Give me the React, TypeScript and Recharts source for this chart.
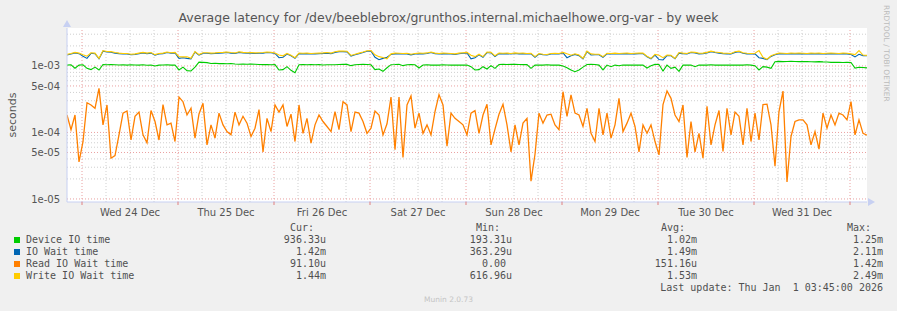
import { LineChart, Line, XAxis, YAxis, ReferenceLine } from 'recharts';

// hourly samples, starting Dec 23 20:15, values in microseconds
const deviceUs = [
  1030, 1040, 925, 1030, 1040, 920, 880, 960, 870, 1050, 1040, 1045, 1040, 1035, 1040, 1030, 1040, 1035, 1030, 1040, 1025, 1035, 1000, 1030, 1035, 1040, 1030, 1035, 870, 960, 850, 840, 960, 1140,
  1130, 1120, 1090, 1095, 1085, 1090, 1080, 1090, 1070, 1060, 1065, 1060, 1070, 1060, 1050, 1045, 1050, 1040, 1045, 870, 880, 975, 860, 790, 1040, 1045, 1040, 1050, 1040, 1045, 1035, 1040, 1040,
  1040, 1050, 1060, 1055, 1010, 1045, 1050, 1055, 1050, 1040, 880, 900, 830, 940, 1045, 1050, 1060, 1010, 1040, 1045, 1040, 930, 1035, 1040, 1030, 1035, 1030, 1040, 1035, 1030, 1035, 1030, 1030,
  1030, 975, 870, 880, 975, 900, 1010, 920, 1050, 1055, 1050, 1060, 1055, 1050, 1045, 1050, 920, 1030, 1035, 1030, 1040, 1030, 1035, 1030, 1000, 940, 870, 820, 870, 960, 1050, 1055, 1050,
  1030, 870, 1030, 975, 1030, 1005, 1035, 1030, 1035, 1030, 1035, 1030, 930, 1005, 1055, 1050, 840, 1030, 920, 960, 830, 1030, 1035, 1030, 975, 1030, 1035, 1030, 1040, 1030, 1035, 1030, 1035, 1030,
  1030, 1035, 1030, 1040, 1030, 1010, 870, 975, 960, 920, 1160, 1170, 1160, 1165, 1170, 1165, 1160, 1165, 1160, 1155, 1150, 1160, 1150, 1145, 1130, 1135, 1130, 1125, 1130, 1125, 930, 955, 950, 936,
];

const ioWaitUs = [
  1460, 1510, 1570, 1530, 1400, 1300, 1550, 1530, 1280, 1670, 1620, 1610, 1560, 1530, 1510, 1510, 1470, 1490, 1530, 1570, 1530, 1560, 1450, 1510, 1530, 1590, 1550, 1570, 1300, 1330, 1300, 1280, 1620, 1450,
  1550, 1550, 1530, 1540, 1560, 1570, 1590, 1560, 1540, 1600, 1570, 1550, 1560, 1540, 1550, 1560, 1590, 1580, 1540, 1330, 1350, 1510, 1420, 1300, 1530, 1520, 1530, 1510, 1520, 1530, 1540, 1560, 1530,
  1600, 1640, 1640, 1630, 1410, 1470, 1530, 1590, 1660, 1670, 1350, 1240, 1300, 1350, 1490, 1530, 1520, 1510, 1520, 1470, 1510, 1530, 1520, 1540, 1590, 1530, 1510, 1530, 1520, 1510, 1490, 1530, 1550,
  1570, 1280, 1330, 1470, 1350, 1590, 1570, 1390, 1530, 1520, 1530, 1510, 1540, 1520, 1530, 1510, 1520, 1350, 1510, 1470, 1460, 1510, 1520, 1510, 1570, 1330, 1420, 1490, 1430, 1280, 1640, 1460, 1470,
  1470, 1350, 1520, 1510, 1530, 1510, 1520, 1530, 1510, 1520, 1530, 1530, 1370, 1280, 1460, 1250, 1230, 1430, 1420, 1280, 1560, 1530, 1510, 1590, 1570, 1520, 1530, 1570, 1640, 1590, 1560, 1530, 1520, 1510,
  1600, 1640, 1550, 1520, 1510, 1520, 1330, 1300, 1240, 1390, 1470, 1530, 1520, 1510, 1530, 1520, 1530, 1520, 1510, 1530, 1520, 1530, 1510, 1520, 1530, 1520, 1510, 1530, 1520, 1490, 1370, 1500, 1430, 1420,
];

const readUs = [
  183, 110, 183, 36, 73, 280, 259, 231, 461, 130, 259, 41, 45, 92, 195, 210, 77, 175, 202, 92, 70, 214, 146, 77, 263, 130, 138, 73, 340, 290, 183, 231, 82, 190,
  275, 65, 130, 82, 195, 130, 103, 92, 202, 130, 175, 138, 87, 116, 220, 51, 163, 103, 259, 202, 259, 123, 188, 73, 259, 97, 163, 69, 130, 183, 146, 123, 103,
  206, 110, 290, 259, 103, 202, 195, 146, 97, 116, 210, 183, 92, 135, 340, 55, 340, 42, 259, 355, 116, 195, 97, 130, 92, 206, 370, 259, 62, 195, 163, 146, 130,
  92, 195, 213, 97, 183, 266, 65, 112, 188, 266, 130, 51, 130, 65, 138, 163, 18.5, 47, 195, 138, 183, 188, 130, 110, 410, 175, 366, 195, 183, 123, 231, 97, 73,
  231, 92, 195, 82, 130, 326, 103, 138, 195, 123, 51, 130, 97, 130, 73, 46, 263, 420, 326, 183, 146, 259, 42, 146, 51, 97, 41, 248, 65, 130, 214, 52, 231, 92,
  202, 175, 65, 231, 73, 195, 77, 263, 266, 130, 31, 206, 420, 18, 87, 146, 155, 155, 130, 65, 103, 56, 195, 116, 183, 130, 195, 183, 155, 290, 92, 155, 97, 91,
];

const writeUs = [
  1490, 1540, 1600, 1560, 1470, 1400, 1580, 1560, 1300, 1700, 1650, 1640, 1590, 1560, 1540, 1540, 1500, 1520, 1560, 1600, 1560, 1590, 1480, 1540, 1560, 1620, 1580, 1600, 1380, 1370, 1370, 1300, 1650, 1480,
  1580, 1580, 1560, 1570, 1590, 1600, 1620, 1590, 1570, 1630, 1600, 1580, 1590, 1570, 1580, 1590, 1620, 1610, 1570, 1460, 1420, 1540, 1450, 1330, 1560, 1550, 1560, 1540, 1550, 1560, 1570, 1590, 1560,
  1630, 1670, 1670, 1660, 1440, 1500, 1560, 1620, 1690, 1700, 1470, 1380, 1340, 1280, 1520, 1560, 1550, 1540, 1550, 1500, 1540, 1560, 1550, 1570, 1620, 1560, 1540, 1560, 1550, 1540, 1520, 1560, 1580,
  1600, 1450, 1380, 1500, 1380, 1620, 1600, 1420, 1560, 1550, 1560, 1540, 1570, 1550, 1560, 1540, 1550, 1380, 1540, 1500, 1490, 1540, 1550, 1540, 1600, 1520, 1450, 1520, 1460, 1300, 1670, 1520, 1500,
  1500, 1380, 1550, 1540, 1560, 1540, 1550, 1560, 1540, 1550, 1560, 1560, 1400, 1300, 1490, 1450, 1330, 1460, 1450, 1300, 1590, 1560, 1540, 1620, 1600, 1550, 1560, 1600, 1670, 1620, 1590, 1560, 1550, 1540,
  1630, 1670, 1580, 1550, 1540, 1550, 1700, 1350, 1260, 1420, 1500, 1560, 1550, 1540, 1560, 1550, 1560, 1550, 1540, 1560, 1550, 1560, 1540, 1550, 1560, 1550, 1540, 1560, 1550, 1520, 1480, 1700, 1460, 1440,
];

const startHour = -3.75; // hours relative to Wed 24 Dec 00:00

const seriesNames = ['Device IO time', 'IO Wait time', 'Read IO Wait time', 'Write IO Wait time'];
const seriesKeys = ['dev', 'iow', 'rd', 'wr'];
const seriesColors = ['#00cc00', '#0066b3', '#ff8000', '#ffcc00'];
const curValues = ['936.33u', '1.42m', '91.10u', '1.44m'];
const minValues = ['193.31u', '363.29u', '0.00 ', '616.96u'];
const avgValues = ['1.02m', '1.49m', '151.16u', '1.53m'];
const maxValues = ['1.25m', '2.11m', '1.42m', '2.49m'];

const dayLabels = ['Wed 24 Dec', 'Thu 25 Dec', 'Fri 26 Dec', 'Sat 27 Dec', 'Sun 28 Dec', 'Mon 29 Dec', 'Tue 30 Dec', 'Wed 31 Dec'];
const dayNoons = [12, 36, 60, 84, 108, 132, 156, 180];
const midnights = [0, 24, 48, 72, 96, 120, 144, 168, 192];
const sixHourMarks = [6, 12, 18, 30, 36, 42, 54, 60, 66, 78, 84, 90, 102, 108, 114, 126, 132, 138, 150, 156, 162, 174, 180, 186];

const yTicks = [1e-5, 5e-5, 1e-4, 5e-4, 1e-3];
const yTickLabels = ['1e-05', '5e-05', '1e-04', '5e-04', '1e-03'];
const yMinor = [2e-5, 3e-5, 4e-5, 6e-5, 7e-5, 8e-5, 9e-5, 2e-4, 3e-4, 4e-4, 6e-4, 7e-4, 8e-4, 9e-4, 2e-3, 3e-3];

const data = readUs.map((_, i) => ({
  t: startHour + i,
  dev: deviceUs[i] * 1e-6,
  iow: ioWaitUs[i] * 1e-6,
  rd: readUs[i] * 1e-6,
  wr: writeUs[i] * 1e-6,
}));

const SANS = '"DejaVu Sans", sans-serif';
const MONO = '"DejaVu Sans Mono", monospace';
const MINOR = '#cfcfcf';
const MAJOR = '#eaa0a0';

function DayTick(props: any) {
  const { x, y, payload } = props;
  const i = dayNoons.indexOf(payload.value);
  if (i >= 0) {
    return (
      <text x={x} y={y + 14} textAnchor="middle" fontSize={10} fill="#555" fontFamily={SANS}>
        {dayLabels[i]}
      </text>
    );
  }
  return <line x1={x} x2={x} y1={y} y2={y + 3} stroke="#e08080" />;
}

const textRow = (top: number): React.CSSProperties => ({
  position: 'absolute',
  top,
  lineHeight: '12px',
  fontSize: 10,
  fontFamily: MONO,
  color: '#505050',
  whiteSpace: 'pre',
});

export default function App() {
  return (
    <div style={{ position: 'absolute', left: 0, top: 0, width: 897, height: 311, background: '#f0f0f0', overflow: 'hidden' }}>
      <div style={{ position: 'absolute', top: 10, left: 0, width: 897, textAlign: 'center', fontFamily: SANS, fontSize: 12.5, color: '#555' }}>
        Average latency for /dev/beeblebrox/grunthos.internal.michaelhowe.org-var - by week
      </div>
      <div style={{ position: 'absolute', left: 5, top: 108, width: 14, height: 14 }}>
        <div style={{ position: 'absolute', left: 7, top: 7, transform: 'translate(-50%, -50%) rotate(-90deg)', fontFamily: SANS, fontSize: 11, color: '#555', whiteSpace: 'nowrap' }}>
          seconds
        </div>
      </div>
      <div style={{ position: 'absolute', left: 882, top: 5, writingMode: 'vertical-rl', fontFamily: SANS, fontSize: 7.5, color: '#bbb', whiteSpace: 'nowrap' }}>
        RRDTOOL / TOBI OETIKER
      </div>

      <div style={{ position: 'absolute', left: 0, top: 0 }}>
        <LineChart width={897} height={311} data={data} margin={{ top: 28, right: 30, bottom: 89, left: 0 }}>
          <rect x={67} y={28} width={800} height={174} fill="#ffffff" />
          {yMinor.map((v) => (
            <ReferenceLine key={'ym' + v} y={v} stroke={MINOR} strokeDasharray="1 2" />
          ))}
          {sixHourMarks.map((v) => (
            <ReferenceLine key={'xm' + v} x={v} stroke={MINOR} strokeDasharray="1 2" />
          ))}
          {yTicks.map((v) => (
            <ReferenceLine key={'yM' + v} y={v} stroke={MAJOR} strokeDasharray="1 2" />
          ))}
          {midnights.map((v) => (
            <ReferenceLine key={'xM' + v} x={v} stroke={MAJOR} strokeDasharray="1 2" />
          ))}
          <XAxis
            dataKey="t"
            type="number"
            domain={[startHour, startHour + 200]}
            ticks={[...midnights, ...dayNoons].sort((a, b) => a - b)}
            interval={0}
            tick={<DayTick />}
            tickLine={false}
            tickSize={0}
            tickMargin={0}
            height={20}
            axisLine={{ stroke: '#c7d0f2' }}
            allowDataOverflow
          />
          <YAxis
            scale="log"
            domain={[9.0e-6, 3.72e-3]}
            ticks={yTicks}
            tickFormatter={(v: number) => yTickLabels[yTicks.indexOf(v)] ?? ''}
            tick={{ fontSize: 10, fill: '#555', fontFamily: SANS }}
            tickLine={false}
            tickSize={0}
            tickMargin={7}
            width={67}
            axisLine={{ stroke: '#c7d0f2' }}
            allowDataOverflow
          />
          {seriesKeys.map((k, i) => (
            <Line
              key={k}
              dataKey={k}
              type="linear"
              stroke={seriesColors[i]}
              strokeWidth={k === 'rd' ? 1.3 : 1.1}
              dot={false}
              activeDot={false}
              isAnimationActive={false}
            />
          ))}
        </LineChart>
      </div>

      <svg style={{ position: 'absolute', left: 0, top: 0 }} width={897} height={311}>
        <polygon points="63,27 71,27 67,20" fill="#c7d0f2" />
        <polygon points="868,198 868,206 875,202" fill="#c7d0f2" />
      </svg>

      <div style={{ ...textRow(222), left: 290 }}>Cur:</div>
      <div style={{ ...textRow(222), left: 476 }}>Min:</div>
      <div style={{ ...textRow(222), left: 661 }}>Avg:</div>
      <div style={{ ...textRow(222), left: 847 }}>Max:</div>
      {seriesNames.map((name, i) => (
        <div key={name}>
          <div style={{ position: 'absolute', left: 14, top: 237 + 12 * i, width: 6, height: 6, background: seriesColors[i] }} />
          <div style={{ ...textRow(234 + 12 * i), left: 26 }}>{name}</div>
          <div style={{ ...textRow(234 + 12 * i), right: 897 - 326 }}>{curValues[i]}</div>
          <div style={{ ...textRow(234 + 12 * i), right: 897 - 512 }}>{minValues[i]}</div>
          <div style={{ ...textRow(234 + 12 * i), right: 897 - 697 }}>{avgValues[i]}</div>
          <div style={{ ...textRow(234 + 12 * i), right: 897 - 883 }}>{maxValues[i]}</div>
        </div>
      ))}
      <div style={{ ...textRow(282), right: 897 - 883 }}>Last update: Thu Jan  1 03:45:00 2026</div>
      <div style={{ position: 'absolute', top: 295, left: 0, width: 897, textAlign: 'center', fontFamily: SANS, fontSize: 7.5, color: '#c4c4c4' }}>
        Munin 2.0.73
      </div>
    </div>
  );
}
